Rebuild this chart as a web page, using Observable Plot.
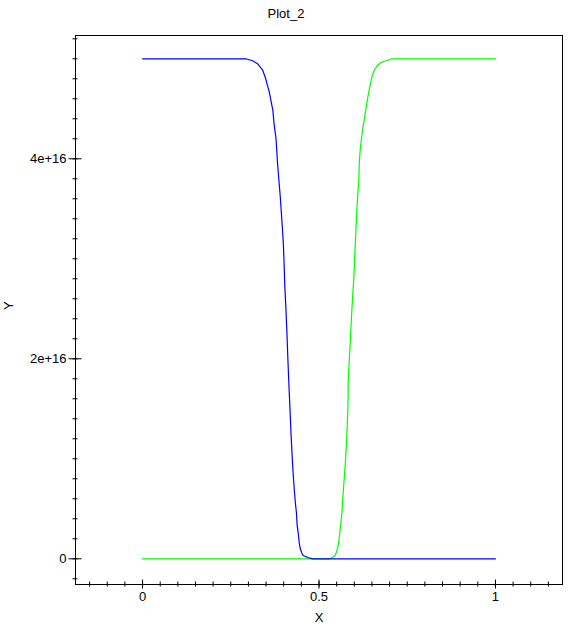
<!DOCTYPE html>
<html><head><meta charset="utf-8">
<script src="https://cdn.jsdelivr.net/npm/d3@7"></script>
<script src="https://cdn.jsdelivr.net/npm/@observablehq/plot@0.6"></script>
<style>
body{margin:0;background:#fff}
#chart svg{display:block}
</style>
</head><body><div id="chart"></div>
<script>
const title = "Plot_2";
const xLabel = "X";
const yLabel = "Y";

const blueX = [0, 0.293, 0.312, 0.326, 0.340, 0.349, 0.359, 0.369, 0.373, 0.378, 0.383, 0.386, 0.390, 0.393, 0.396, 0.399, 0.401, 0.403, 0.406, 0.409, 0.412, 0.415, 0.418, 0.421, 0.424, 0.427, 0.430, 0.433, 0.436, 0.438, 0.441, 0.444, 0.447, 0.451, 0.455, 0.468, 0.482, 1];
const blueY = [5.0e16, 5.0e16, 4.98e16, 4.95e16, 4.89e16, 4.80e16, 4.67e16, 4.49e16, 4.34e16, 4.21e16, 3.93e16, 3.80e16, 3.63e16, 3.48e16, 3.32e16, 3.15e16, 2.96e16, 2.73e16, 2.52e16, 2.27e16, 1.98e16, 1.72e16, 1.48e16, 1.23e16, 1.02e16, 0.84e16, 0.69e16, 0.56e16, 0.46e16, 0.34e16, 0.26e16, 0.16e16, 0.10e16, 0.06e16, 0.033e16, 0.013e16, 0, 0];

const greenX = [0, 0.529, 0.539, 0.545, 0.549, 0.553, 0.556, 0.559, 0.562, 0.565, 0.567, 0.570, 0.573, 0.576, 0.579, 0.582, 0.583, 0.586, 0.590, 0.593, 0.596, 0.599, 0.601, 0.604, 0.607, 0.610, 0.613, 0.614, 0.617, 0.621, 0.624, 0.628, 0.633, 0.638, 0.645, 0.650, 0.657, 0.667, 0.681, 0.700, 0.705, 1];
const greenY = [0, 0, 0.013e16, 0.03e16, 0.063e16, 0.107e16, 0.17e16, 0.26e16, 0.36e16, 0.46e16, 0.59e16, 0.73e16, 0.88e16, 1.03e16, 1.24e16, 1.53e16, 1.80e16, 2.00e16, 2.27e16, 2.48e16, 2.66e16, 2.83e16, 3.02e16, 3.23e16, 3.47e16, 3.65e16, 3.80e16, 3.95e16, 4.10e16, 4.22e16, 4.30e16, 4.39e16, 4.50e16, 4.61e16, 4.74e16, 4.82e16, 4.89e16, 4.94e16, 4.97e16, 4.99e16, 5.0e16, 5.0e16];

const xMajorTicks = [0, 0.5, 1];
const xTickLabels = ["0", "0.5", "1"];
const yMajorTicks = [0, 2e16, 4e16];
const yTickLabels = ["0", "2e+16", "4e+16"];
const xMinorTicks = d3.range(-3, 24).map(i => i * 0.05);
const yMinorTicks = d3.range(-1, 27).map(i => i * 0.2e16);

const blue = blueX.map((x, i) => ({x, y: blueY[i]}));
const green = greenX.map((x, i) => ({x, y: greenY[i]}));

const font = "'Liberation Sans', Arial, sans-serif";

const chart = Plot.plot({
  width: 570,
  height: 631,
  marginLeft: 75,
  marginRight: 8,
  marginTop: 35,
  marginBottom: 47,
  style: {fontFamily: font, fontSize: "13px", color: "black", background: "white"},
  x: {domain: [-0.19, 1.19], axis: null},
  y: {domain: [-0.257e16, 5.233e16], axis: null},
  marks: [
    Plot.frame({stroke: "black", strokeWidth: 1}),
    // minor ticks
    Plot.axisX(xMinorTicks, {anchor: "bottom", tickSize: 5, dy: -2.5, text: null, label: null, stroke: "black"}),
    Plot.axisY(yMinorTicks, {anchor: "left", tickSize: 5, dx: 2.5, text: null, label: null, stroke: "black"}),
    // major ticks
    Plot.axisX(xMajorTicks, {anchor: "bottom", tickSize: 9, dy: -4.5, text: null, label: null, stroke: "black"}),
    Plot.axisY(yMajorTicks, {anchor: "left", tickSize: 13, dx: 6.5, text: null, label: null, stroke: "black"}),
    // tick labels
    Plot.axisX(xMajorTicks, {anchor: "bottom", tickSize: 0, tickPadding: 7, tickFormat: (d, i) => xTickLabels[i], label: null, fill: "black"}),
    Plot.axisY(yMajorTicks, {anchor: "left", tickSize: 0, tickPadding: 9, tickFormat: (d, i) => yTickLabels[i], label: null, fill: "black"}),
    // curves
    Plot.line(green, {x: "x", y: "y", stroke: "#00ff00", strokeWidth: 1.2}),
    Plot.line(blue, {x: "x", y: "y", stroke: "#0000ff", strokeWidth: 1.2}),
    // texts
    Plot.text([title], {frameAnchor: "top", dy: -27, dx: -33, text: d => d, fill: "black", fontSize: 13}),
    Plot.text([xLabel], {frameAnchor: "bottom", dy: 37, text: d => d, fill: "black", fontSize: 13}),
    Plot.text([yLabel], {frameAnchor: "left", dx: -67, rotate: -90, text: d => d, fill: "black", fontSize: 13})
  ]
});
document.getElementById("chart").appendChild(chart);
</script>
</body></html>
